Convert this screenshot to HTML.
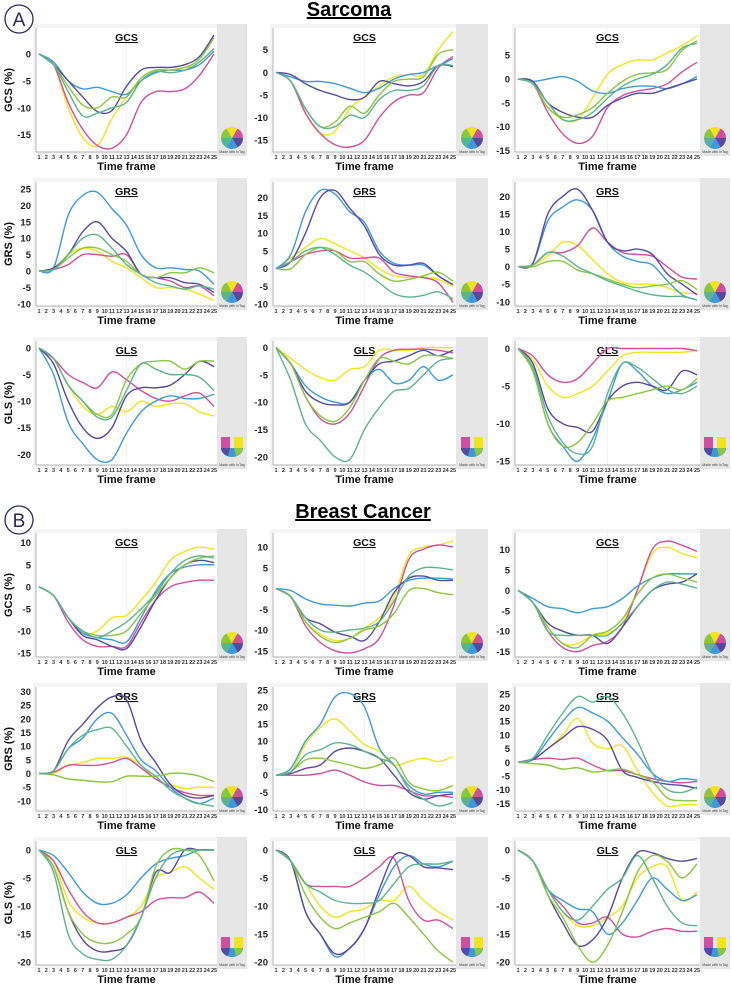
<!DOCTYPE html>
<html><head><meta charset="utf-8">
<style>
body{margin:0;background:#fff;width:732px;height:985px;overflow:hidden;font-family:"Liberation Sans",Arial,sans-serif;}
svg text{font-family:"Liberation Sans",Arial,sans-serif;}
</style></head>
<body>
<svg id="fig" width="732" height="985" viewBox="0 0 732 985" xmlns="http://www.w3.org/2000/svg">
  <g>
    <circle cx="19" cy="19" r="14" fill="none" stroke="#2a2a5a" stroke-width="1.3"/>
    <text x="19" y="26" text-anchor="middle" font-size="19" fill="#2a2a5a">A</text>
  </g>
  <text x="349" y="16" text-anchor="middle" font-size="20" font-weight="bold" text-decoration="underline">Sarcoma</text>
  <g>
    <circle cx="19" cy="520" r="14" fill="none" stroke="#2a2a5a" stroke-width="1.3"/>
    <text x="19" y="527" text-anchor="middle" font-size="19" fill="#2a2a5a">B</text>
  </g>
  <text x="363" y="518" text-anchor="middle" font-size="20" font-weight="bold" text-decoration="underline">Breast Cancer</text>
</svg>
<script>
const frames = [1,3,5,7,9,11,13,15,17,19,21,23,25];
const seriesNames = ["yellow","magenta","blue","purple","lightgreen","teal"];
const seriesColors = ["#f2e41c","#cf4f9f","#3d9ad8","#574a9e","#8cc540","#5cb48c"];
const panelTitles = ["GCS","GCS","GCS","GRS","GRS","GRS","GLS","GLS","GLS","GCS","GCS","GCS","GRS","GRS","GRS","GLS","GLS","GLS"];
const yRanges = [[-18.2,4.8],[-17.6,9.8],[-15.3,10.7],[-10.6,27.1],[-10.5,24.4],[-11.2,24.1],[-22,1.3],[-21.5,1.2],[-15.5,1],
                 [-15.9,12.2],[-16.5,13.4],[-16.3,14],[-13.7,31.6],[-10.5,25.9],[-17.8,27.5],[-20.5,1.6],[-20.5,1.6],[-20.5,1.6]];
const yTicks = [[0,-5,-10,-15],[5,0,-5,-10,-15],[5,0,-5,-10,-15],[25,20,15,10,5,0,-5,-10],[20,15,10,5,0,-5,-10],[20,15,10,5,0,-5,-10],[0,-5,-10,-15,-20],[0,-5,-10,-15,-20],[0,-5,-10,-15],
                [10,5,0,-5,-10,-15],[10,5,0,-5,-10,-15],[10,5,0,-5,-10,-15],[30,25,20,15,10,5,0,-5,-10],[25,20,15,10,5,0,-5,-10],[25,20,15,10,5,0,-5,-10,-15],[0,-5,-10,-15,-20],[0,-5,-10,-15,-20],[0,-5,-10,-15,-20]];
const p1 = [[0,-2,-10,-15.5,-17,-12,-8,-4.5,-3,-3,-2.5,-2,0.5],[0,-2,-9,-14,-17,-17.5,-15,-9,-7,-7,-6.5,-4,0],[0,-1.5,-5,-6.5,-6.2,-7,-7.5,-5,-3.5,-3,-3,-2,0.5],[0,-2,-5,-8,-10.7,-10.5,-6,-3,-2.5,-2.5,-2,-0.5,3.5],[0,-2,-6,-9.5,-10,-8,-8,-4.5,-3,-3,-2.5,-1,3],[0,-2,-7,-11.5,-11,-10,-9,-5,-3.3,-3.5,-3,-1.5,1]];
const p2 = [[0,-2,-9,-13.5,-13,-8,-5.5,-3,-1,-0.5,-0.5,5,9],[0,-2,-9,-13.5,-16,-16.5,-15,-10,-6.5,-5,-4.5,1,3.5],[0,-1,-2,-2,-2.5,-3.5,-4.5,-3.5,-1.5,-0.5,0,1.5,3],[0,-0.5,-2.5,-4,-5,-6,-5.5,-2,-2.5,-3,-2,1.5,1.3],[0,-2,-8,-12,-11,-7.5,-9,-5,-2,-1.5,-1,4,5],[0,-2,-8,-12,-12,-9.5,-10,-6,-4,-4,-3,1.5,1.5]];
const p3 = [[0,-1,-6,-8.5,-8.5,-4,1,3,4,4,5.5,7,9],[0,-1,-7,-11.5,-13.5,-12,-6,-3.5,-2.5,-2,-1,1.5,3.5],[0,-0.5,0,0.5,-0.5,-2.5,-3,-2,-1.5,-1.5,-2,-1,0.5],[0,-0.5,-5,-7,-8,-8,-5.5,-4,-3,-3,-2,-1,0],[0,-1,-6,-8,-7.5,-6,-3,-0.5,1,1.3,2,6,8],[0,-1,-5,-8.5,-8.5,-7,-4,-1.5,0,1,3,6.5,7.5]];
const p4 = [[0,0.5,5,7,6,3,1,-2,-5,-5,-5.5,-7,-9],[0,0.5,2,5,5,4.5,5,-1,-2,-3,-5,-4.5,-7.5],[0,1,17,23,24,19,14,5,1,1,0.5,0,-4],[0,1,5,12,15,10,6,-1,-2,-2,-3.5,-4,-6.5],[0,0.5,4,7,7,5,3,-1,-2,-0.5,-0.5,1,-0.5],[0,0.5,5,10,11,7,2,-1,-3.5,-4.5,-5.5,-4.5,-5.5]];
const p5 = [[0,3,6,8.5,7,5,3,0,-2,-2.5,-2.5,-3,-5],[0,2,4,5,5,3,3,3,-1,-2,-2.5,-4,-9.5],[0,4,16,22,21,16,13,5,1.5,1,1,-2,-4.5],[0,2,10,20,22,17,12,4,1,1,1.5,-2,-4.5],[0,0,4,6,5,2,2,-1.5,-3.5,-3,-2,-1,-3.5],[0,2,5,6,4,1,-1,-4,-7,-8,-7.5,-6.5,-8.5]];
const p6 = [[0,0.5,3,7,6,2,-2,-4.5,-5,-5,-6,-7.5,-7.5],[0,0.5,4,4,6,11,7,4,3.5,3,0,-3,-3.5],[0,1,13,17,19,16,7,3,1.5,0.5,-4,-8,-9.5],[0,1,15,20,22,16,7,4.5,5,3.5,-2,-5,-8],[0,0,1.5,1.5,-1,-2,-3.5,-5,-6,-5.5,-5,-4,-6.5],[0,0.5,4,3,0,-2,-4,-5.5,-7,-8,-8.5,-8.5,-9.5]];
const p7 = [[0,-2,-7,-11,-12.5,-11,-12,-10,-11,-10.5,-10.5,-12,-12.8],[0,-2,-5,-6.5,-7.5,-4.5,-6,-8,-9.5,-10,-9,-8.5,-11],[0,-5,-14,-18,-21,-21,-16,-12,-10,-9,-9.5,-9.5,-8.7],[0,-3,-10,-15,-17,-15,-9,-7.5,-7.5,-7,-5,-2.5,-3.5],[0,-2,-7,-10,-12.5,-12.5,-6,-3,-2.5,-2.5,-4,-2.5,-2.5],[0,-2,-7,-10,-13,-13,-8,-3,-4,-5,-5,-5.5,-8]];
const p8 = [[0,-2,-4,-5.5,-6,-4,-3.5,-0.5,-0.5,-0.5,0,0,0],[0,-3,-9,-13,-14,-12,-7,-2,-0.5,-0.3,-0.3,-0.5,-1],[0,-3,-7,-9,-10,-10,-6,-4,-6.5,-6,-3.5,-6,-5],[0,-3,-8,-10,-10.5,-10,-6,-3,-2.5,-1.5,-0.5,-1.5,-0.5],[0,-3,-9,-12.5,-13.5,-11,-6,-2,-2.5,-3,-1.5,-1.5,-2],[0,-6,-14,-17,-20,-20.5,-15,-11,-8,-7.5,-5,-2.5,-2]];
const p9 = [[0,-1.5,-5,-6.5,-6,-5,-3,-1,-0.5,-0.5,-0.5,-0.5,-0.3],[0,-1,-3.5,-4.5,-4,-2,0,0,0,0,0,0,-0.3],[0,-3,-10,-13,-15,-12,-7,-2,-3,-5,-6,-5.5,-4.5],[0,-2,-8,-10,-10.5,-11,-7,-5,-4.5,-5,-5.5,-3,-3.5],[0,-3,-10,-13,-12.5,-10,-7,-6.5,-6,-5.5,-5,-5.5,-4],[0,-2.5,-9,-12.5,-14,-13,-6,-2,-2.5,-4,-5.5,-6,-5]];
const p10 = [[0,-2,-7,-10.5,-10,-7,-6.5,-3,1,6,8,9,8.5],[0,-2,-8,-12,-13.5,-13.5,-13.5,-8,-3,0,1,1.5,1.5],[0,-2,-7,-10.5,-11.5,-12,-12.5,-7,-1,3,4.5,5,5],[0,-2,-7,-11,-12,-13.5,-14,-9,-3,2,5,6,5.5],[0,-2,-7,-10,-11,-11,-10,-6,-2,2,5,6.5,7],[0,-2,-7,-10,-11.5,-10,-8,-5,-1.5,3,6,7,6.5]];
const p11 = [[0,-2,-8,-11,-12.5,-12,-9.5,-7,-2,8,10,10.5,11.5],[0,-2,-9,-13,-15,-15.5,-14.5,-12,-4,7,9.5,10.5,10],[0,-0.5,-2.5,-3.7,-4,-4.2,-3.5,-3,0,2,2.5,2.5,2.3],[0,-2,-7,-8.5,-10.5,-11.5,-12.5,-8,-1,2.5,3,2,2],[0,-2,-8,-11.5,-13,-12,-10,-9,-6,-0.5,0,-1,-1.5],[0,-2,-7,-10,-10.5,-10,-9.5,-8,-3,3,5,5,4.5]];
const p12 = [[0,-3,-9,-13,-13,-11,-10.5,-8,0,9,10.5,9,8],[0,-3,-10,-14,-15,-13.5,-12.5,-9,0,10,12,11,9.5],[0,-2,-4,-4.5,-5.5,-4.5,-4,-2,1,3,4,4,4],[0,-3,-8,-10,-11,-11,-13,-9,-4,0,1.5,2,4],[0,-3,-9,-13,-14,-11,-10,-7,-1,3,4,3,2],[0,-3,-10,-11,-11,-11,-11,-8,-4,0,2,1.5,0.5]];
const p13 = [[0,0,3,4,5.5,5.5,6,3,-2,-4,-5.5,-5,-5],[0,0.5,3,3,3,4,5.5,2,-2,-5,-7,-8,-8],[0,1,9,13,20,22,14,5,1,-5,-9,-11,-9],[0,1,12,18,24,28,27,12,4,-4,-8,-9,-8],[0,-0.5,-2,-2.5,-3,-3,-1,-1,-1,0,0,-1,-3],[0,1,9,14,16,16.5,10,3,-1,-6,-9,-11,-12]];
const p14 = [[0,1,9,14,16.5,13,9,7,3,4,5,4,5.5],[0,0,0,0.5,1.5,0,-2,-3,-3,-4.5,-6,-6,-6.5],[0,2,10,15,23,24,20,8,3,-3,-5.5,-5,-5],[0,0.5,2,3,7,8,7,5,0,-5,-7,-6,-5.5],[0,1,4.5,5,4,3,2,3,5,-2,-4,-4.5,-3],[0,1,6,7.5,9.5,9,7,5,3,-4,-7,-9,-8]];
const p15 = [[0,1,5,10,16,7,5,6,-3,-11,-16,-15.5,-15.5],[0,1,1.5,1,1.5,-1,-3,-3,-4.5,-6,-7,-7.5,-7],[0,1,8,15,20,18,15,9,3,-4,-7,-6,-6.5],[0,1,5,9,13,12,8,-3,-5.5,-7,-8,-8.5,-9.5],[0,-0.5,-1,-2.5,-2,-3.5,-3,-2.5,-4.5,-7,-13,-14,-14],[0,1.5,10,18,24,22,24,18,8,-4,-10,-11,-9]];
const p16 = [[0,-2,-9,-12,-13,-13,-12,-10,-5,-4,-3,-5,-7],[0,-2,-7,-11,-13,-13,-12,-11,-9,-8.5,-8.5,-7.5,-9.5],[0,-1,-4,-7.5,-9.5,-9.5,-8,-5,-2.5,-1.5,-1,0,0],[0,-3,-11,-16,-18,-18,-17,-12,-4,-4,0,0,0],[0,-3,-11,-15,-16.5,-16.5,-15,-12,-3,0,0,-1,-5.5],[0,-4,-15,-18.5,-19.5,-19.5,-17,-12,-5,-1,0,0,0]];
const p17 = [[0,-2,-6,-10,-12,-11,-10.5,-9,-9,-6.5,-9,-11,-12.5],[0,-2,-6,-6.5,-6.5,-6.5,-5,-3,-1.5,-9,-12.5,-12.5,-14],[0,-2,-11,-15,-19,-17.5,-14,-8,-3,-1,-2.5,-3,-2],[0,-2,-11,-15,-18.5,-17.5,-14,-7,-1,-1,-3,-3.2,-3.5],[0,-2,-8,-12,-14,-13,-12,-11,-9.5,-12,-15,-18,-20],[0,-2,-6,-7.5,-9,-9.5,-9.5,-9,-6,-3,-2.5,-2.5,-2]];
const p18 = [[0,-2,-7,-11,-13.5,-13.5,-12,-10,-5,-3,-3,-9,-7.5],[0,-2,-7,-10,-13,-13,-12,-15,-15.5,-14.5,-14,-14.5,-14.5],[0,-2,-7,-9,-10.5,-11,-15,-13,-9,-5,-7,-9,-8],[0,-2,-8,-13,-17,-16,-12,-5,-0.5,-0.5,-1.5,-2,-1.5],[0,-2,-8,-12,-17,-20,-17,-11,-4,-1,-2,-5,-2.5],[0,-2,-7,-11,-12.5,-10,-7,-5,-1,-5,-10,-13,-13.5]];
const panelData = [p1,p2,p3,p4,p5,p6,p7,p8,p9,p10,p11,p12,p13,p14,p15,p16,p17,p18];

const NS = "http://www.w3.org/2000/svg";
const svg = document.getElementById("fig");
const colX = [[36,217,247],[273,456,488],[515,700,730]];
const rowY = [28,182,341,533,687,841];
const plotH = 124;
function mk(tag, attrs, parent){const e=document.createElementNS(NS,tag);for(const k in attrs)e.setAttribute(k,attrs[k]);(parent||svg).appendChild(e);return e;}
function smooth(pts){
  let d="M"+pts[0][0].toFixed(1)+","+pts[0][1].toFixed(1);
  for(let i=0;i<pts.length-1;i++){
    const p0=pts[i-1]||pts[i],p1=pts[i],p2=pts[i+1],p3=pts[i+2]||pts[i+1];
    const c1x=p1[0]+(p2[0]-p0[0])/6,c1y=p1[1]+(p2[1]-p0[1])/6,c2x=p2[0]-(p3[0]-p1[0])/6,c2y=p2[1]-(p3[1]-p1[1])/6;
    d+=" C"+c1x.toFixed(1)+","+c1y.toFixed(1)+" "+c2x.toFixed(1)+","+c2y.toFixed(1)+" "+p2[0].toFixed(1)+","+p2[1].toFixed(1);
  }
  return d;
}
for(let pi=0;pi<18;pi++){
  const r=Math.floor(pi/3),c=pi%3;
  const [x0,x1,gx]=colX[c];const y0=rowY[r],y1=y0+plotH;
  const [ymin,ymax]=yRanges[pi];
  const xs=f=>x0+3+(f-1)/24*(x1-x0-6);
  const ys=v=>y1-(v-ymin)/(ymax-ymin)*(y1-y0);
  const g=mk("g",{});
  
  
  mk("rect",{x:x0-3,y:y0-4,width:gx-x0+3,height:plotH+8,fill:"#f4f4f4"},g);
  mk("rect",{x:x1,y:y0-4,width:gx-x1,height:plotH+8,fill:"#e6e6e6"},g);
  mk("rect",{x:x0,y:y0,width:x1-x0,height:plotH,fill:"#fff"},g);
  mk("line",{x1:xs(13),y1:y0,x2:xs(13),y2:y1,stroke:"#eee","stroke-width":0.7},g);
  mk("line",{x1:x0,y1:y0,x2:x0,y2:y1,stroke:"#999","stroke-width":0.7},g);
  mk("line",{x1:x0,y1:y1,x2:x1,y2:y1,stroke:"#999","stroke-width":0.7},g);
  for(const t of yTicks[pi]){
    const tl=mk("text",{x:x0-5,y:ys(t)+3.5,"text-anchor":"end","font-size":9.5,"font-weight":"bold",fill:"#222"},g);
    tl.textContent=t;
    
    
  }
  for(let f=1;f<=25;f++){
    const fl=mk("text",{x:xs(f),y:y1+7,"text-anchor":"middle","font-size":5.5,"font-weight":"bold",fill:"#333"},g);
    fl.textContent=f;
    
    
  }
  const xt=mk("text",{x:(x0+x1)/2,y:y1+18,"text-anchor":"middle","font-size":11,"font-weight":"bold",fill:"#111"},g);
  xt.textContent="Time frame";
  
  
  const tt=mk("text",{x:x0+(x1-x0)*0.5,y:y0+13,"text-anchor":"middle","font-size":10.5,"font-weight":"bold","text-decoration":"underline",fill:"#111"},g);
  tt.textContent=panelTitles[pi];
  
  
  if(c===0){
    const yt=mk("text",{x:0,y:0,"text-anchor":"middle","font-size":11,"font-weight":"bold",fill:"#111",transform:"translate("+(x0-24)+","+((y0+y1)/2)+") rotate(-90)"},g);
    yt.textContent=panelTitles[pi]+" (%)";
    
    
  }
  const data=panelData[pi];
  for(let s=0;s<6;s++){
    const pts=frames.map((f,i)=>[xs(f),ys(data[s][i])]);
    const path=mk("path",{d:smooth(pts),fill:"none",stroke:seriesColors[s],"stroke-width":1.4},g);
    
    
  }
  const cx=(x1+gx)/2, cy=y1-14;
  const ic=mk("g",{},g);
  
  
  const icCols=["#f2e41c","#cf4f9f","#574a9e","#3d9ad8","#5cb48c","#8cc540"];
  if(panelTitles[pi]!=="GLS"){
    for(let k=0;k<6;k++){
      const a0=(-120+k*60)*Math.PI/180,a1=(-60+k*60)*Math.PI/180,R=11;
      mk("path",{d:"M"+cx+","+cy+" L"+(cx+R*Math.cos(a0))+","+(cy+R*Math.sin(a0))+" A"+R+","+R+" 0 0 1 "+(cx+R*Math.cos(a1))+","+(cy+R*Math.sin(a1))+" Z",fill:icCols[k]},ic);
    }
  } else {
    mk("rect",{x:cx-11,y:cy-14,width:9,height:11,fill:"#cf4f9f"},ic);
    mk("rect",{x:cx+2,y:cy-14,width:9,height:11,fill:"#f2e41c"},ic);
    mk("path",{d:"M"+(cx-11)+","+(cy-3)+" A11,9 0 0 0 "+(cx+11)+","+(cy-3)+" Z",fill:"#3d9ad8"},ic);
    mk("path",{d:"M"+(cx+2)+","+(cy-3)+" L"+(cx+11)+","+(cy-3)+" A11,9 0 0 1 "+(cx+4)+","+(cy+5)+" Z",fill:"#8cc540"},ic);
    mk("path",{d:"M"+(cx-11)+","+(cy-3)+" L"+(cx-2)+","+(cy-3)+" L"+(cx-4)+","+(cy+5)+" A11,9 0 0 1 "+(cx-11)+","+(cy-3)+" Z",fill:"#574a9e"},ic);
  }
  const mw=mk("text",{x:cx,y:y1+1,"text-anchor":"middle","font-size":3.5,fill:"#444"},ic);
  mw.textContent="Made with InTag";
}
</script>
</body></html>
